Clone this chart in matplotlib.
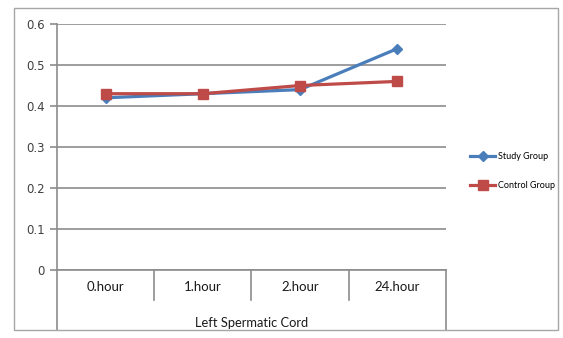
import matplotlib.pyplot as plt
from matplotlib.patches import Rectangle
from matplotlib.lines import Line2D

plt.rcParams['font.family'] = ['Lato', 'DejaVu Sans']

categories = ['0.hour', '1.hour', '2.hour', '24.hour']
study = [0.42, 0.43, 0.44, 0.54]
control = [0.43, 0.43, 0.45, 0.46]
group_label = 'Left Spermatic Cord'
yticks = [0, 0.1, 0.2, 0.3, 0.4, 0.5, 0.6]

blue = '#4a7ebb'
red = '#be4b48'
grid_c = '#8c8c8c'

W, H = 563, 338
fig = plt.figure(figsize=(W / 100, H / 100), dpi=100)
fig.patches.append(Rectangle((14 / W, 1 - 330 / H), 544 / W, 322 / H,
                             transform=fig.transFigure, fill=False,
                             edgecolor='#a6a6a6', linewidth=1.0))

ax = fig.add_axes([57 / W, 1 - 270 / H, 389 / W, 246 / H])
x = range(len(categories))
ax.plot(x, study, color=blue, linewidth=2.3, marker='D', markersize=5,
        label='Study Group', zorder=3)
ax.plot(x, control, color=red, linewidth=2.3, marker='s', markersize=7,
        label='Control Group', zorder=4)

ax.set_xlim(-0.5, len(categories) - 0.5)
ax.set_ylim(0, 0.6)
ax.set_yticks(yticks)
ax.set_yticklabels(['0' if v == 0 else f'{v:.1f}' for v in yticks],
                   fontsize=8.5, color='#404040', family='DejaVu Sans')
ax.yaxis.grid(True, color=grid_c, linewidth=1.2)
ax.set_axisbelow(True)
ax.tick_params(axis='y', length=5, width=1.2, color=grid_c, pad=4)
ax.set_xticks([])
for s in ['top', 'right']:
    ax.spines[s].set_visible(False)
ax.spines['left'].set_color(grid_c)
ax.spines['left'].set_linewidth(1.2)
ax.spines['bottom'].set_color(grid_c)
ax.spines['bottom'].set_linewidth(1.2)

# category separators and labels below the axis
tr = ax.get_xaxis_transform()
n = len(categories)
for i in range(n + 1):
    xb = i - 0.5
    bottom = -0.245 if i in (0, n) else -0.122
    ax.plot([xb, xb], [0, bottom], transform=tr, color=grid_c,
            linewidth=1.2, clip_on=False)
for i, c in enumerate(categories):
    ax.text(i, -0.07, c, transform=tr, ha='center', va='center',
            fontsize=9.5, color='#1a1a1a')
ax.text((n - 1) / 2, -0.215, group_label, transform=tr, ha='center',
        va='center', fontsize=9.3, color='#1a1a1a')

handles = [Line2D([], [], color=blue, linewidth=2.3, marker='D', markersize=5),
           Line2D([], [], color=red, linewidth=2.3, marker='s', markersize=7)]
fig.legend(handles, ['Study Group', 'Control Group'], loc='center left',
           bbox_to_anchor=(462 / W, 1 - 171 / H), frameon=False,
           fontsize=6.5, handlelength=2.8, labelspacing=2.2, handletextpad=0.3)

fig.savefig('out.png', dpi=100)
